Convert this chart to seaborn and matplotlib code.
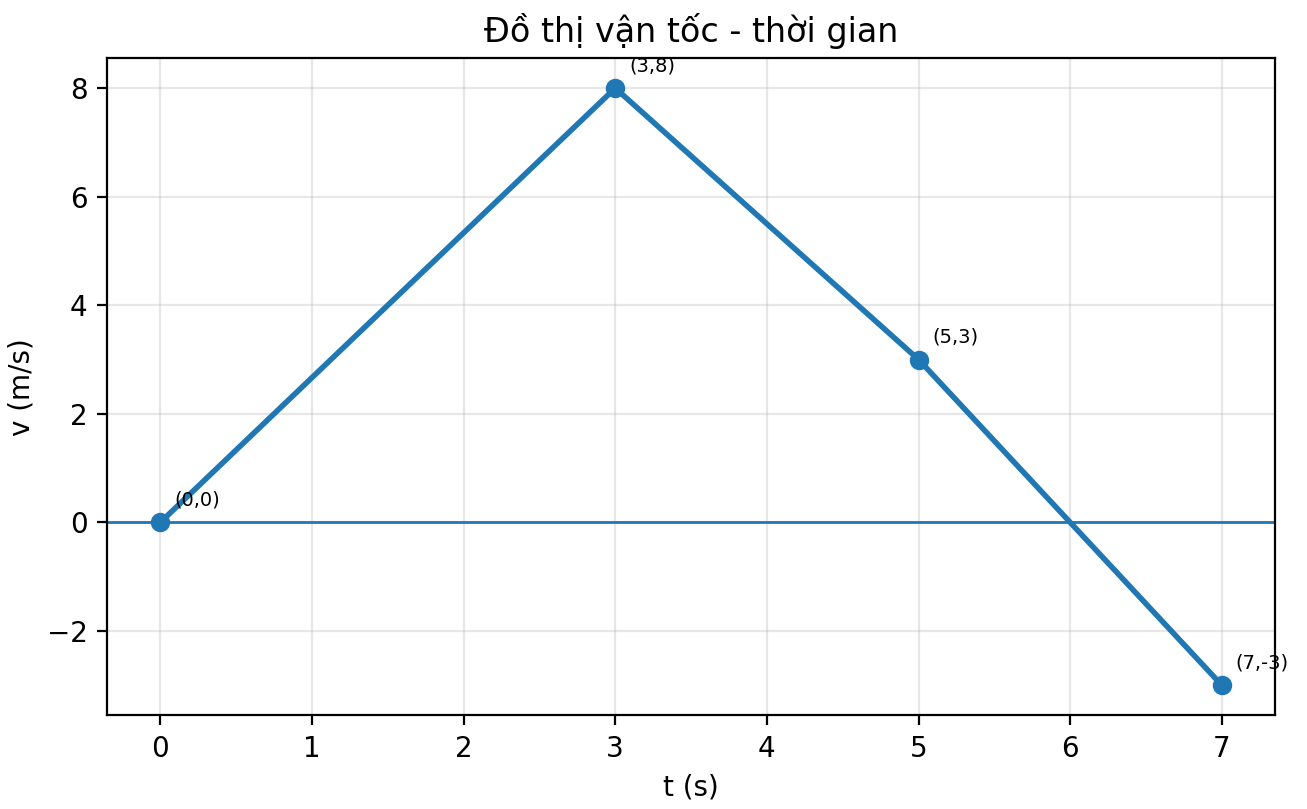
import matplotlib
matplotlib.use("Agg")
import matplotlib.pyplot as plt
import seaborn as sns
import pandas as pd

t_values = [0, 3, 5, 7]
v_values = [0, 8, 3, -3]
point_labels = ["(0,0)", "(3,8)", "(5,3)", "(7,-3)"]

df = pd.DataFrame({"t": t_values, "v": v_values})

fig = plt.figure(figsize=(6.535, 4.045), dpi=200)
ax = fig.add_axes([0.082, 0.116, 0.8935, 0.812])

sns.lineplot(data=df, x="t", y="v", ax=ax, marker="o", markersize=7,
             markeredgewidth=0, color="#1f77b4", linewidth=2)
ax.axhline(0, color="#1f77b4", linewidth=1)

for x, y, lab in zip(t_values, v_values, point_labels):
    ax.annotate(lab, (x, y), textcoords="offset points", xytext=(5, 6), fontsize=7)

ax.set_title("Đồ thị vận tốc - thời gian")
ax.set_xlabel("t (s)")
ax.set_ylabel("v (m/s)")
ax.grid(True, alpha=0.3)
ax.set_xlim(-0.35, 7.35)
ax.set_ylim(-3.55, 8.55)

fig.savefig("out.png", dpi=200)
plt.close(fig)
